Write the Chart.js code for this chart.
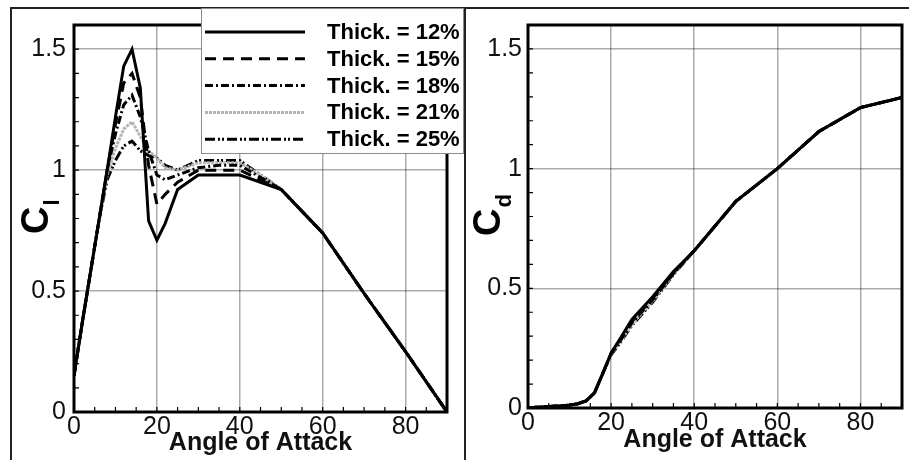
<!DOCTYPE html>
<html>
<head>
<meta charset="utf-8">
<title>Cl / Cd vs angle of attack</title>
<script src="https://cdn.jsdelivr.net/npm/chart.js@4.4.0/dist/chart.umd.min.js"></script>
<style>
  html, body { margin: 0; padding: 0; background: #fff; }
  #page { position: relative; width: 909px; height: 460px; overflow: hidden; }
  .rule { position: absolute; background: #222; }
  #wrapL { position: absolute; left: 0; top: 0; width: 465px; height: 460px; }
  #wrapR { position: absolute; left: 465px; top: 0; width: 444px; height: 460px; }
</style>
</head>
<body>
<div id="page">
  <div class="rule" style="left:10px;top:7px;width:899px;height:2px"></div>
  <div class="rule" style="left:10px;top:7px;width:2px;height:453px"></div>
  <div class="rule" style="left:464px;top:7px;width:2px;height:453px"></div>
  <div id="wrapL"><canvas id="cl" width="465" height="460"></canvas></div>
  <div id="wrapR"><canvas id="cd" width="444" height="460"></canvas></div>
</div>
<script>
// angle of attack (deg), shared by every curve
var angles = [0, 2, 4, 6, 8, 10, 12, 14, 16, 18, 20, 22, 25, 30, 35, 40, 45, 50, 60, 70, 80, 90];
var thickLabels = ['Thick. = 12%', 'Thick. = 15%', 'Thick. = 18%', 'Thick. = 21%', 'Thick. = 25%'];
var xTicks = [0, 20, 40, 60, 80];
var yTicks = [0, 0.5, 1, 1.5];

// lift coefficient
var cl12 = [0.15, 0.37, 0.58, 0.79, 1.00, 1.22, 1.43, 1.50, 1.34, 0.79, 0.71, 0.78, 0.92, 0.98, 0.98, 0.98, 0.95, 0.92, 0.74, 0.49, 0.25, 0.00];
var cl15 = [0.15, 0.37, 0.58, 0.79, 1.00, 1.19, 1.36, 1.40, 1.30, 1.02, 0.86, 0.90, 0.95, 1.00, 1.00, 1.00, 0.96, 0.92, 0.74, 0.49, 0.25, 0.00];
var cl18 = [0.15, 0.37, 0.58, 0.79, 1.00, 1.15, 1.27, 1.31, 1.22, 1.08, 0.98, 0.96, 0.98, 1.01, 1.02, 1.02, 0.97, 0.92, 0.74, 0.49, 0.25, 0.00];
var cl21 = [0.15, 0.37, 0.58, 0.79, 0.98, 1.09, 1.17, 1.20, 1.14, 1.08, 1.05, 1.01, 1.00, 1.03, 1.03, 1.03, 0.98, 0.92, 0.74, 0.49, 0.25, 0.00];
var cl25 = [0.15, 0.37, 0.58, 0.79, 0.96, 1.04, 1.10, 1.12, 1.08, 1.06, 1.05, 1.02, 1.00, 1.04, 1.04, 1.04, 0.98, 0.92, 0.74, 0.49, 0.25, 0.00];

// drag coefficient
var cd12 = [0.000, 0.003, 0.005, 0.007, 0.009, 0.012, 0.018, 0.030, 0.063, 0.145, 0.230, 0.285, 0.370, 0.465, 0.570, 0.657, 0.760, 0.863, 1.000, 1.155, 1.255, 1.297];
var cd15 = [0.000, 0.003, 0.005, 0.007, 0.009, 0.012, 0.018, 0.030, 0.063, 0.145, 0.228, 0.280, 0.362, 0.458, 0.565, 0.657, 0.760, 0.863, 1.000, 1.155, 1.255, 1.297];
var cd18 = [0.000, 0.003, 0.005, 0.007, 0.009, 0.012, 0.018, 0.030, 0.063, 0.145, 0.226, 0.276, 0.356, 0.452, 0.562, 0.657, 0.760, 0.863, 1.000, 1.155, 1.255, 1.297];
var cd21 = [0.000, 0.003, 0.005, 0.007, 0.009, 0.012, 0.018, 0.030, 0.063, 0.145, 0.224, 0.272, 0.350, 0.447, 0.560, 0.657, 0.760, 0.863, 1.000, 1.155, 1.255, 1.297];
var cd25 = [0.000, 0.003, 0.005, 0.007, 0.009, 0.012, 0.018, 0.030, 0.063, 0.145, 0.222, 0.268, 0.345, 0.442, 0.557, 0.657, 0.760, 0.863, 1.000, 1.155, 1.255, 1.297];

var FONT = "'Liberation Sans', Arial, sans-serif";

var airfoil = (function () {
  'use strict';

  var styles = [
    { color: '#000000', dash: [] },
    { color: '#000000', dash: [11, 7] },
    { color: '#000000', dash: [8, 3, 2, 3] },
    { color: '#b4b4b4', dash: [3, 1] },
    { color: '#000000', dash: [10, 3, 2, 2, 2, 3] }
  ];

  function points (ys) {
    var out = [];
    for (var i = 0; i < angles.length; i++) {
      out.push({ x: angles[i], y: ys[i] });
    }
    return out;
  }

  // chart.js paints dataset 0 last, so the 12% line stays on top
  function datasets (series) {
    var out = [];
    for (var i = 0; i < series.length; i++) {
      out.push({
        label: thickLabels[i],
        data: points(series[i]),
        borderColor: styles[i].color,
        borderDash: styles[i].dash,
        borderWidth: 3,
        pointRadius: 0,
        tension: 0,
        fill: false
      });
    }
    return out;
  }

  function keepOnly (list) {
    return function (scale) {
      scale.ticks = scale.ticks.filter(function (t) {
        return list.some(function (v) { return Math.abs(v - t.value) < 1e-6; });
      });
    };
  }

  function plain (v) {
    return String(Math.round(v * 100) / 100);
  }

  function scales (cfg) {
    return {
      x: {
        type: 'linear',
        min: 0,
        max: 90,
        afterBuildTicks: keepOnly(xTicks),
        afterFit: function (s) { s.height = cfg.xHeight; },
        ticks: { stepSize: 20, padding: cfg.xPad, color: '#111', callback: plain, font: { family: FONT, size: 25, lineHeight: 1 } },
        grid: { color: 'rgba(0,0,0,0.33)', lineWidth: 1.5, drawTicks: false },
        border: { display: false },
        title: {
          display: true,
          text: 'Angle of Attack',
          color: '#111',
          font: { family: FONT, size: 25, weight: 'bold', lineHeight: 1 },
          padding: { top: 0, bottom: cfg.titlePad }
        }
      },
      y: {
        min: 0,
        max: 1.6,
        afterBuildTicks: keepOnly(yTicks),
        afterFit: function (s) { s.width = cfg.yWidth; },
        ticks: { stepSize: 0.5, padding: cfg.yPad, color: '#111', callback: plain, font: { family: FONT, size: 25, lineHeight: 1 } },
        grid: { color: 'rgba(0,0,0,0.33)', lineWidth: 1.5, drawTicks: false },
        border: { display: false }
      }
    };
  }

  // frame, inward minor ticks, subscripted axis title and in-plot legend
  var decor = {
    id: 'decor',
    afterDraw: function (chart, args, opts) {
      var ctx = chart.ctx;
      var a = chart.chartArea;
      var xs = chart.scales.x;
      var ys = chart.scales.y;
      var i, p;
      ctx.save();
      ctx.strokeStyle = '#000';
      ctx.lineWidth = 1.2;
      ctx.beginPath();
      for (i = 1; i < 16; i++) {
        p = ys.getPixelForValue(i / 10);
        ctx.moveTo(a.left, p);
        ctx.lineTo(a.left + 5, p);
      }
      for (i = 1; i < 18; i++) {
        p = xs.getPixelForValue(i * 5);
        ctx.moveTo(p, a.bottom);
        ctx.lineTo(p, a.bottom - 5);
      }
      ctx.stroke();

      ctx.lineWidth = 3;
      ctx.strokeRect(a.left, a.top, a.right - a.left, a.bottom - a.top);

      // axis title: big bold C with subscript, turned to read upward
      ctx.translate(opts.titleX, opts.titleY);
      ctx.rotate(-Math.PI / 2);
      ctx.fillStyle = '#000';
      ctx.textAlign = 'left';
      ctx.textBaseline = 'alphabetic';
      ctx.font = 'bold 38px ' + FONT;
      ctx.fillText('C', 0, 0);
      var w = ctx.measureText('C').width;
      ctx.font = 'bold 22px ' + FONT;
      ctx.fillText(opts.sub, w + 1, 11);
      ctx.restore();

      if (opts.legend) {
        drawLegend(chart, opts.legend);
      }
    }
  };

  function drawLegend (chart, box) {
    var ctx = chart.ctx;
    var sets = chart.data.datasets;
    ctx.save();
    ctx.fillStyle = '#fff';
    ctx.fillRect(box.x, box.y, box.w, box.h);
    ctx.strokeStyle = '#8c8c8c';
    ctx.lineWidth = 1;
    ctx.strokeRect(box.x + 0.5, box.y + 0.5, box.w - 1, box.h - 1);
    ctx.font = 'bold 22px ' + FONT;
    ctx.textBaseline = 'middle';
    ctx.textAlign = 'left';
    for (var i = 0; i < sets.length; i++) {
      var yy = box.y + 24 + i * 26.8;
      ctx.strokeStyle = sets[i].borderColor;
      ctx.lineWidth = 3;
      ctx.setLineDash(sets[i].borderDash);
      ctx.beginPath();
      ctx.moveTo(box.x + 4, yy);
      ctx.lineTo(box.x + 104, yy);
      ctx.stroke();
      ctx.setLineDash([]);
      ctx.fillStyle = '#000';
      ctx.fillText(sets[i].label, box.x + 126, yy + 1);
    }
    ctx.restore();
  }

  function draw (id, series, cfg) {
    return new Chart(document.getElementById(id), {
      type: 'line',
      data: { datasets: datasets(series) },
      options: {
        responsive: false,
        animation: false,
        events: [],
        layout: { padding: cfg.padding },
        plugins: {
          legend: { display: false },
          tooltip: { enabled: false },
          decor: cfg.decor
        },
        scales: scales(cfg)
      },
      plugins: [decor]
    });
  }

  function init () {
    draw('cl', [cl12, cl15, cl18, cl21, cl25], {
      padding: { left: 0, right: 18, top: 25, bottom: 0 },
      xHeight: 48,
      yWidth: 74,
      xPad: 3,
      yPad: 8,
      titlePad: 4,
      decor: { titleX: 48, titleY: 234, sub: 'l', legend: { x: 201, y: 8, w: 263, h: 146 } }
    });
    draw('cd', [cd12, cd15, cd18, cd21, cd25], {
      padding: { left: 0, right: 7, top: 25, bottom: 0 },
      xHeight: 52,
      yWidth: 63,
      xPad: 3,
      yPad: 6,
      titlePad: 7,
      decor: { titleX: 35, titleY: 236, sub: 'd', legend: null }
    });
  }

  return {
    init: init
  };
}());

airfoil.init();
</script>
</body>
</html>
